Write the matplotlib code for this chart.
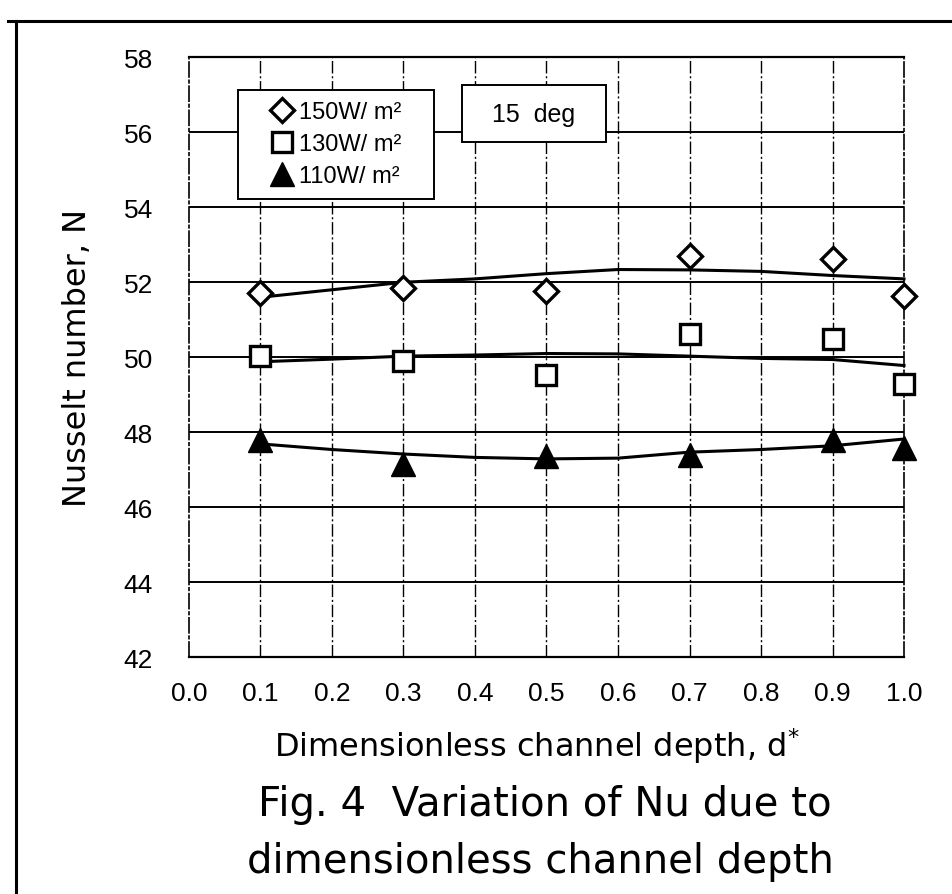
import numpy as np
import matplotlib.pyplot as plt
from matplotlib.lines import Line2D
from matplotlib.patches import Rectangle

plt.rcParams['font.family'] = ['Liberation Sans', 'DejaVu Sans']

# measured points
depth = [0.1, 0.3, 0.5, 0.7, 0.9, 1.0]
nu_150 = [51.71, 51.85, 51.76, 52.71, 52.63, 51.64]
nu_130 = [50.03, 49.91, 49.52, 50.62, 50.50, 49.29]
nu_110 = [47.80, 47.15, 47.36, 47.40, 47.80, 47.59]

# trend curves
curve_x = [0.1, 0.2, 0.3, 0.4, 0.5, 0.6, 0.7, 0.8, 0.9, 1.0]
curve_150 = [51.60, 51.80, 52.00, 52.09, 52.23, 52.34, 52.33, 52.29, 52.18, 52.09]
curve_130 = [49.88, 49.95, 50.03, 50.06, 50.10, 50.09, 50.03, 49.97, 49.94, 49.78]
curve_110 = [47.69, 47.54, 47.42, 47.33, 47.29, 47.31, 47.47, 47.54, 47.64, 47.82]

labels = ['150W/ m²', '130W/ m²', '110W/ m²']
xticks = [0.0, 0.1, 0.2, 0.3, 0.4, 0.5, 0.6, 0.7, 0.8, 0.9, 1.0]
yticks = [42, 44, 46, 48, 50, 52, 54, 56, 58]

fig = plt.figure(figsize=(9.52, 8.95), dpi=100)
ax = fig.add_axes([0.1985, 0.2645, 0.7511, 0.6704])

vdash = (0, (9, 2, 1.5, 2))
for xv in xticks[1:-1]:
    ax.axvline(xv, color='k', lw=1.0, ls=vdash, zorder=1)
for yv in yticks[1:-1]:
    ax.axhline(yv, color='k', lw=1.4, zorder=1)

for cy in (curve_150, curve_130, curve_110):
    ax.plot(curve_x, cy, color='k', lw=2.2, zorder=3, clip_on=False)

ax.plot(depth, nu_150, ls='none', marker='D', ms=12.5, mfc='white', mec='k', mew=2.4,
        zorder=4, label=labels[0], clip_on=False)
ax.plot(depth, nu_130, ls='none', marker='s', ms=15, mfc='white', mec='k', mew=2.4,
        zorder=4, label=labels[1], clip_on=False)
ax.plot(depth, nu_110, ls='none', marker='^', ms=17, mfc='k', mec='k', mew=1,
        zorder=4, label=labels[2], clip_on=False)

ax.set_xlim(0, 1.0)
ax.set_ylim(42, 58)
ax.set_xticks(xticks)
ax.set_xticklabels(['%.1f' % v for v in xticks])
ax.set_yticks(yticks)
ax.tick_params(axis='both', length=0, labelsize=19)
ax.tick_params(axis='y', pad=26)
ax.tick_params(axis='x', pad=17)
for s in ['left', 'right']:
    ax.spines[s].set_linestyle(vdash)
    ax.spines[s].set_linewidth(1.2)
for s in ['top', 'bottom']:
    ax.spines[s].set_linewidth(1.6)

ax.set_ylabel('Nusselt number, N', fontsize=23, family='DejaVu Sans', labelpad=22)
ax.set_xlabel('Dimensionless channel depth, d$^{*}$', fontsize=23, family='DejaVu Sans',
              labelpad=13)
ax.xaxis.set_label_coords(0.487, -0.113)

# legend box
ax.add_patch(Rectangle((0.0685, 0.764), 0.2745, 0.1816, transform=ax.transAxes,
                       facecolor='white', edgecolor='k', lw=1.4, zorder=6))
leg = ax.legend(loc='center', bbox_to_anchor=(0.206, 0.855), fontsize=17, frameon=False,
                handlelength=0.9, handletextpad=0.3, labelspacing=0.42, borderaxespad=0)
leg.set_zorder(7)

ax.add_patch(Rectangle((0.382, 0.859), 0.201, 0.095, transform=ax.transAxes,
                       facecolor='white', edgecolor='k', lw=1.4, zorder=6))
ax.text(0.4825, 0.906, '15  deg', transform=ax.transAxes, ha='center', va='center',
        fontsize=18, zorder=7)

fig.text(0.572, 0.100, 'Fig. 4  Variation of Nu due to', ha='center', va='center',
         fontsize=29, family='DejaVu Sans')
fig.text(0.568, 0.037, 'dimensionless channel depth', ha='center', va='center',
         fontsize=29, family='DejaVu Sans')

# frame around the figure (left and top edges)
fig.add_artist(Line2D([16 / 952, 16 / 952], [0, 1 - 22 / 895], color='k', lw=2.2))
fig.add_artist(Line2D([8 / 952, 1], [1 - 22 / 895, 1 - 22 / 895], color='k', lw=2.2))

fig.savefig('out.png', dpi=100)
